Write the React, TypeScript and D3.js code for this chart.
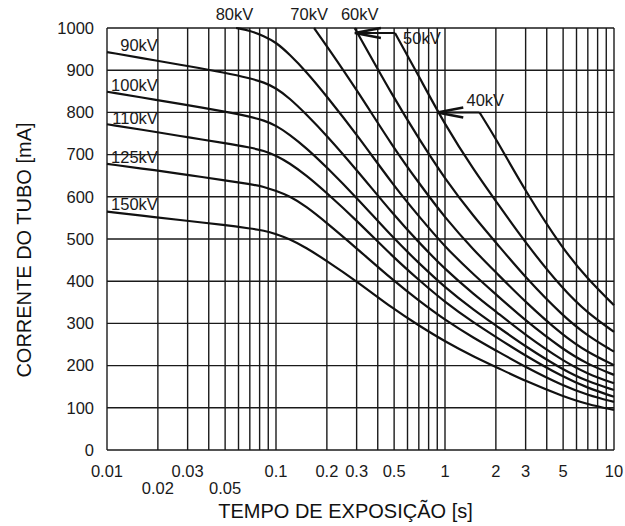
import React from "react";
import * as d3 from "d3";

// ---- Data ----
const xTickRow1 = [0.01, 0.03, 0.1, 0.2, 0.3, 0.5, 1, 2, 3, 5, 10];
const xTickRow2 = [0.02, 0.05];
const yTicks = [0, 100, 200, 300, 400, 500, 600, 700, 800, 900, 1000];

const tHigh = [0.01, 0.02, 0.03, 0.05, 0.07, 0.085, 0.1, 0.12, 0.15, 0.2, 0.3, 0.5, 0.7, 1, 1.5, 2, 3, 5, 7, 10];
const kv90 = [943, 922, 910, 894, 881, 871, 858, 834, 797, 745, 664, 556, 492, 428, 367, 328, 272, 211, 180, 158];
const kv100 = [849, 829, 817, 802, 790, 781, 769, 748, 717, 670, 598, 500, 443, 385, 330, 295, 245, 190, 162, 142];
const kv110 = [772, 753, 741, 727, 717, 709, 698, 680, 652, 609, 544, 455, 403, 350, 300, 268, 223, 173, 147, 126];
const kv125 = [678, 662, 652, 639, 630, 624, 614, 602, 578, 538, 478, 400, 354, 308, 264, 236, 196, 152, 130, 114];
const kv150 = [565, 551, 543, 533, 525, 520, 512, 500, 480, 448, 400, 333, 295, 257, 220, 197, 163, 127, 108, 95];

const t80 = [0.058, 0.07, 0.085, 0.1, 0.12, 0.15, 0.2, 0.3, 0.5, 0.7, 1, 1.5, 2, 3, 5, 7, 10];
const kv80 = [1000, 994, 981, 966, 938, 898, 838, 748, 625, 554, 481, 413, 369, 306, 238, 203, 178];
const t70 = [0.168, 0.2, 0.3, 0.5, 0.7, 1, 1.5, 2, 3, 5, 7, 10];
const kv70 = [1000, 957, 854, 714, 633, 550, 471, 421, 350, 271, 231, 201];
const t60 = [0.292, 0.5, 0.7, 1, 1.5, 2, 3, 5, 7, 10];
const kv60 = [1000, 833, 738, 642, 550, 492, 408, 317, 270, 233];
const t50 = [0.506, 0.7, 1, 1.5, 2, 3, 5, 7, 10];
const kv50 = [988, 886, 770, 660, 590, 490, 380, 324, 280];
const t40 = [1.6, 2, 3, 5, 7, 10];
const kv40 = [800, 738, 612, 475, 405, 343];

const seriesT = [tHigh, tHigh, tHigh, tHigh, tHigh, t80, t70, t60, t50, t40];
const seriesI = [kv90, kv100, kv110, kv125, kv150, kv80, kv70, kv60, kv50, kv40];

// curve labels
const leftLabels = ["90kV", "100kV", "110kV", "125kV", "150kV"];
const leftLabelI = [960, 865, 787, 694, 583];
const topLabels = ["80kV", "70kV", "60kV"];
const topLabelT = [0.0568, 0.157, 0.313];

const FONT = "'Liberation Sans', Arial, sans-serif";
const INK = "#111";

export default function App() {
  const x = d3.scaleLog().domain([0.01, 10]).range([107, 614]);
  const y = d3.scaleLinear().domain([0, 1000]).range([450, 28]);
  const gridX = x.ticks();
  const line = d3
    .line<[number, number]>()
    .x((d) => x(d[0]))
    .y((d) => y(d[1]))
    .curve(d3.curveBasis);

  const fmt = (v: number) => String(v);

  const arrow = (tTip: number, tFrom: number, mA: number) => {
    const xt = x(tTip);
    const xf = x(tFrom);
    const yy = y(mA);
    return (
      <g>
        <line x1={xt} y1={yy} x2={xf} y2={yy} stroke={INK} strokeWidth={2} />
        <path
          d={`M${xt + 26},${yy - 5} L${xt},${yy} L${xt + 26},${yy + 5}`}
          fill="none"
          stroke={INK}
          strokeWidth={2.5}
        />
      </g>
    );
  };

  return (
    <svg
      width={625}
      height={526}
      style={{ position: "absolute", left: 0, top: 0, background: "#fff" }}
      fontFamily={FONT}
    >
      <rect x={0} y={0} width={625} height={526} fill="#fff" />
      {gridX.map((v, i) => (
        <line key={"gx" + i} x1={x(v)} x2={x(v)} y1={y(0)} y2={y(1000)} stroke="#1a1a1a" strokeWidth={1.4} />
      ))}
      {yTicks.map((v, i) => (
        <line key={"gy" + i} x1={x(0.01)} x2={x(10)} y1={y(v)} y2={y(v)} stroke="#1a1a1a" strokeWidth={1.4} />
      ))}
      {seriesT.map((ts, k) => (
        <path
          key={"c" + k}
          d={line(ts.map((t, i) => [t, seriesI[k][i]] as [number, number])) || ""}
          fill="none"
          stroke={INK}
          strokeWidth={2.2}
        />
      ))}
      {arrow(0.293, 0.506, 988)}
      {arrow(0.9, 1.6, 800)}
      {yTicks.map((v, i) => (
        <text key={"yl" + i} x={94} y={y(v)} dy="0.35em" textAnchor="end" fontSize={16.5} fill="#1a1a1a">
          {fmt(v)}
        </text>
      ))}
      {xTickRow1.map((v, i) => (
        <text key={"xl" + i} x={x(v)} y={477} textAnchor="middle" fontSize={16.5} fill="#1a1a1a">
          {fmt(v)}
        </text>
      ))}
      {xTickRow2.map((v, i) => (
        <text key={"xl2" + i} x={x(v)} y={494} textAnchor="middle" fontSize={16.5} fill="#1a1a1a">
          {fmt(v)}
        </text>
      ))}
      {leftLabels.map((s, i) => (
        <text key={"ll" + i} x={x(0.02)} y={y(leftLabelI[i])} dy="0.35em" textAnchor="end" fontSize={16.5} fill="#1a1a1a">
          {s}
        </text>
      ))}
      {topLabels.map((s, i) => (
        <text key={"tl" + i} x={x(topLabelT[i])} y={20} textAnchor="middle" fontSize={16.5} fill="#1a1a1a">
          {s}
        </text>
      ))}
      <text x={x(0.565)} y={y(976)} dy="0.35em" textAnchor="start" fontSize={16.5} fill="#1a1a1a">
        50kV
      </text>
      <text x={x(1.34)} y={y(829)} dy="0.35em" textAnchor="start" fontSize={16.5} fill="#1a1a1a">
        40kV
      </text>
      <text x={345.5} y={518} textAnchor="middle" fontSize={20} fill="#111">
        TEMPO DE EXPOSIÇÃO [s]
      </text>
      <text transform="translate(31,250) rotate(-90)" textAnchor="middle" fontSize={20} fill="#111">
        CORRENTE DO TUBO [mA]
      </text>
    </svg>
  );
}
